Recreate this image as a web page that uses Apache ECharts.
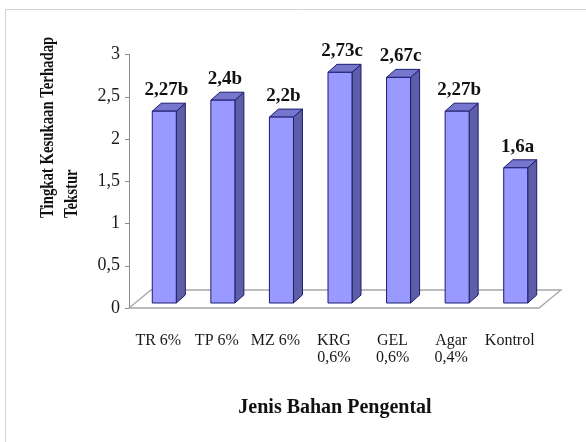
<!DOCTYPE html>
<html>
<head>
<meta charset="utf-8">
<script src="https://cdn.jsdelivr.net/npm/echarts@6/dist/echarts.min.js"></script>
<style>
  html, body { margin: 0; padding: 0; background: #ffffff; }
  #chart { width: 586px; height: 442px; }
</style>
</head>
<body>
<div id="chart"></div>
<script>
// Thickener type vs. texture preference score
const categories = ['TR 6%', 'TP 6%', 'MZ 6%', 'KRG\n0,6%', 'GEL\n0,6%', 'Agar\n0,4%', 'Kontrol'];
const scores = [2.27, 2.4, 2.2, 2.73, 2.67, 2.27, 1.6];
const notations = ['b', 'b', 'b', 'c', 'c', 'b', 'a'];
const yMin = 0, yMax = 3, yStep = 0.5;

const SERIF = '"Liberation Serif", "Times New Roman", serif';
const comma = v => String(v).replace('.', ',');

// pseudo-3D geometry (pixels)
const FLOOR_DX = 22, FLOOR_DY = 18;   // depth of the floor plane
const BAR_OFF_X = 6, BAR_OFF_Y = 5;   // bar front face set back from the front plane
const BAR_DX = 9, BAR_DY = 8;         // bar depth
const EDGE = '#1c1c70';

function renderFloor(params, api) {
  const cs = params.coordSys;
  const x0 = cs.x, x1 = cs.x + cs.width, y0 = cs.y + cs.height;
  return {
    type: 'polygon',
    shape: { points: [[x0, y0], [x1, y0], [x1 + FLOOR_DX, y0 - FLOOR_DY], [x0 + FLOOR_DX, y0 - FLOOR_DY]] },
    style: { fill: '#ffffff', stroke: '#a6a6a6', lineWidth: 1.3 }
  };
}

function renderBar(params, api) {
  const i = api.value(0), v = api.value(1);
  const top = api.coord([i, v]);
  const base = api.coord([i, 0]);
  const bw = api.size([1, 0])[0] * 0.41;
  const cx = top[0] + BAR_OFF_X;
  const yT = top[1] - BAR_OFF_Y, yB = base[1] - BAR_OFF_Y;
  const xl = cx - bw / 2, xr = cx + bw / 2;
  const label = comma(v) + notations[params.dataIndex];
  return {
    type: 'group',
    children: [
      { type: 'polygon',
        shape: { points: [[xr, yT], [xr + BAR_DX, yT - BAR_DY], [xr + BAR_DX, yB - BAR_DY], [xr, yB]] },
        style: { fill: '#5d5da8', stroke: EDGE, lineWidth: 1 } },
      { type: 'polygon',
        shape: { points: [[xl, yT], [xl + BAR_DX, yT - BAR_DY], [xr + BAR_DX, yT - BAR_DY], [xr, yT]] },
        style: { fill: '#7676cc', stroke: EDGE, lineWidth: 1 } },
      { type: 'rect',
        shape: { x: xl, y: yT, width: bw, height: yB - yT },
        style: { fill: '#9999ff', stroke: EDGE, lineWidth: 1 } },
      { type: 'text',
        style: { text: label, x: cx + 2, y: yT - BAR_DY - 13, align: 'center', verticalAlign: 'middle',
                 textAlign: 'center', textVerticalAlign: 'middle',
                 font: 'bold 19px ' + SERIF, fill: '#111111' } }
    ]
  };
}

const chart = echarts.init(document.getElementById('chart'), null, { renderer: 'canvas' });
chart.setOption({
  backgroundColor: '#ffffff',
  animation: false,
  grid: { left: 129, right: 47, top: 54.5, bottom: 134, containLabel: false },
  xAxis: {
    type: 'category',
    data: categories,
    axisLine: { show: false },
    axisTick: { show: false },
    splitLine: { show: false },
    axisLabel: { interval: 0, margin: 24, fontFamily: SERIF, fontSize: 16, lineHeight: 17, color: '#1a1a1a' }
  },
  yAxis: {
    type: 'value',
    min: yMin, max: yMax, interval: yStep,
    axisLine: { show: true, lineStyle: { color: '#8c8c8c', width: 1 } },
    axisTick: { show: true, inside: false, length: 4, lineStyle: { color: '#8c8c8c' } },
    splitLine: { show: false },
    axisLabel: { margin: 9, fontFamily: SERIF, fontSize: 18, color: '#1a1a1a', formatter: comma }
  },
  graphic: [
    { type: 'rect', z: -10, shape: { x: 5.5, y: 9.5, width: 620, height: 460 },
      style: { fill: 'none', stroke: '#d2d2d2', lineWidth: 1 } },
    { type: 'text', x: 48, y: 218, rotation: Math.PI / 2, scaleX: 0.82,
      style: { text: 'Tingkat Kesukaan Terhadap', font: 'bold 18px ' + SERIF, fill: '#111111',
               align: 'left', verticalAlign: 'middle', textAlign: 'left', textVerticalAlign: 'middle' } },
    { type: 'text', x: 72, y: 218, rotation: Math.PI / 2, scaleX: 0.82,
      style: { text: 'Tekstur', font: 'bold 18px ' + SERIF, fill: '#111111',
               align: 'left', verticalAlign: 'middle', textAlign: 'left', textVerticalAlign: 'middle' } },
    { type: 'text', x: 335, y: 408,
      style: { text: 'Jenis Bahan Pengental', font: 'bold 20px ' + SERIF, fill: '#111111',
               align: 'center', verticalAlign: 'middle', textAlign: 'center', textVerticalAlign: 'middle' } }
  ],
  series: [
    { type: 'custom', name: 'floor', z: 1, silent: true, renderItem: renderFloor, data: [[0]] },
    { type: 'custom', name: 'Tingkat Kesukaan', z: 2, renderItem: renderBar,
      encode: { x: 0, y: 1 },
      data: scores.map((s, i) => [i, s]) }
  ]
});
</script>
</body>
</html>
